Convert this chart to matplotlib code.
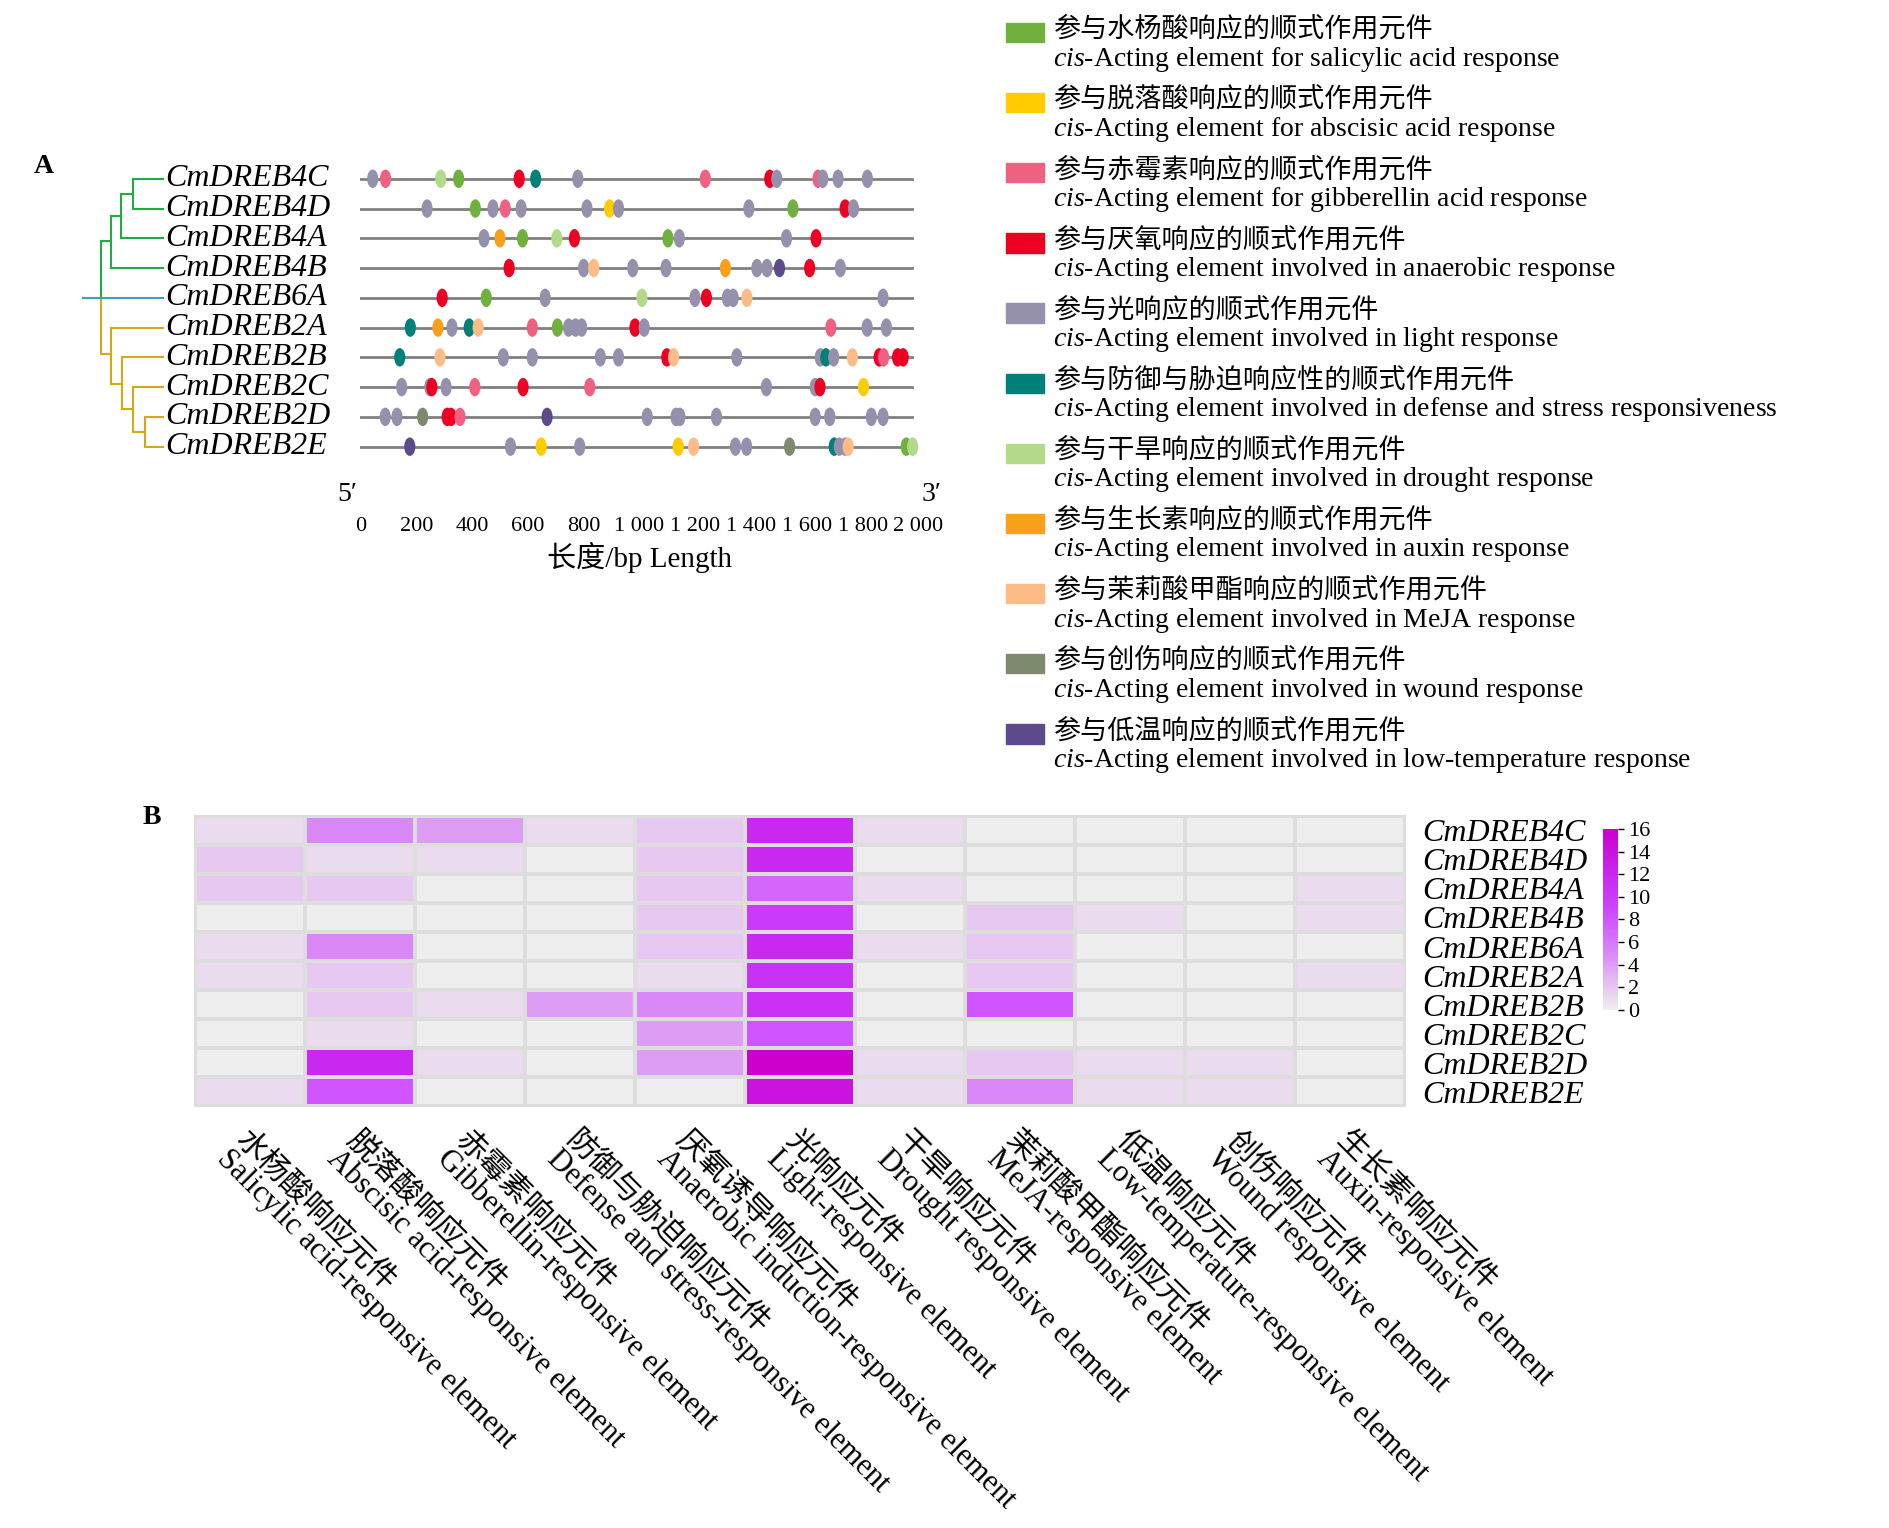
import matplotlib
matplotlib.use("Agg")
import matplotlib.pyplot as plt
from matplotlib.patches import Ellipse
from matplotlib.colors import LinearSegmentedColormap
import numpy as np

plt.rcParams['mathtext.fontset'] = 'custom'
plt.rcParams['mathtext.rm'] = 'Liberation Serif'
plt.rcParams['mathtext.it'] = 'Liberation Serif:italic'
FAM = ['Liberation Serif', 'Noto Sans CJK SC']

genes = ["CmDREB4C", "CmDREB4D", "CmDREB4A", "CmDREB4B", "CmDREB6A",
         "CmDREB2A", "CmDREB2B", "CmDREB2C", "CmDREB2D", "CmDREB2E"]

cat_colors = {
    "SA": "#70b03e", "ABA": "#ffcc00", "GA": "#f06080", "AN": "#ee0022",
    "LI": "#9590ab", "DE": "#008078", "DR": "#b3d98a", "AU": "#f9a01b",
    "ME": "#fdbb88", "WO": "#7e8a6c", "LT": "#5c4a8a",
}
legend_keys = ["SA", "ABA", "GA", "AN", "LI", "DE", "DR", "AU", "ME", "WO", "LT"]
legend_cn = ["参与水杨酸响应的顺式作用元件", "参与脱落酸响应的顺式作用元件", "参与赤霉素响应的顺式作用元件",
             "参与厌氧响应的顺式作用元件", "参与光响应的顺式作用元件", "参与防御与胁迫响应性的顺式作用元件",
             "参与干旱响应的顺式作用元件", "参与生长素响应的顺式作用元件", "参与茉莉酸甲酯响应的顺式作用元件",
             "参与创伤响应的顺式作用元件", "参与低温响应的顺式作用元件"]
legend_en = ["-Acting element for salicylic acid response", "-Acting element for abscisic acid response",
             "-Acting element for gibberellin acid response", "-Acting element involved in anaerobic response",
             "-Acting element involved in light response",
             "-Acting element involved in defense and stress responsiveness",
             "-Acting element involved in drought response", "-Acting element involved in auxin response",
             "-Acting element involved in MeJA response", "-Acting element involved in wound response",
             "-Acting element involved in low-temperature response"]

motifs = [
    [(44,"LI"),(90,"GA"),(288,"DR"),(352,"SA"),(569,"AN"),(628,"DE"),(779,"LI"),(1236,"GA"),(1467,"AN"),(1492,"LI"),(1640,"GA"),(1657,"LI"),(1712,"LI"),(1817,"LI")],
    [(239,"LI"),(412,"SA"),(475,"LI"),(519,"GA"),(576,"LI"),(812,"LI"),(893,"ABA"),(925,"LI"),(1392,"LI"),(1550,"SA"),(1737,"AN"),(1767,"LI")],
    [(443,"LI"),(500,"AU"),(581,"SA"),(704,"DR"),(767,"AN"),(1102,"SA"),(1143,"LI"),(1527,"LI"),(1633,"AN")],
    [(533,"AN"),(800,"LI"),(836,"ME"),(976,"LI"),(1095,"LI"),(1308,"AU"),(1421,"LI"),(1457,"LI"),(1502,"LT"),(1610,"AN"),(1720,"LI")],
    [(293,"AN"),(451,"SA"),(662,"LI"),(1009,"DR"),(1199,"LI"),(1240,"AN"),(1315,"LI"),(1336,"LI"),(1385,"ME"),(1873,"LI")],
    [(179,"DE"),(278,"AU"),(328,"LI"),(390,"DE"),(422,"ME"),(616,"GA"),(706,"SA"),(746,"LI"),(771,"LI"),(793,"LI"),(984,"AN"),(1017,"LI"),(1686,"GA"),(1816,"LI"),(1885,"LI")],
    [(141,"DE"),(285,"ME"),(512,"LI"),(616,"LI"),(860,"LI"),(925,"LI"),(1098,"AN"),(1122,"ME"),(1349,"LI"),(1648,"LI"),(1668,"DE"),(1696,"LI"),(1763,"ME"),(1859,"AN"),(1875,"GA"),(1925,"AN"),(1945,"AN")],
    [(148,"LI"),(249,"LI"),(256,"AN"),(307,"LI"),(410,"GA"),(583,"AN"),(822,"GA"),(1455,"LI"),(1630,"LI"),(1647,"AN"),(1803,"ABA")],
    [(89,"LI"),(131,"LI"),(223,"WO"),(311,"AN"),(325,"AN"),(357,"GA"),(669,"LT"),(1028,"LI"),(1131,"LI"),(1145,"LI"),(1276,"LI"),(1630,"LI"),(1682,"ME"),(1682,"LI"),(1831,"LI"),(1873,"LI")],
    [(177,"LT"),(538,"LI"),(648,"ABA"),(786,"LI"),(1139,"ABA"),(1194,"ME"),(1344,"LI"),(1384,"LI"),(1538,"WO"),(1698,"DE"),(1716,"LI"),(1737,"LI"),(1748,"ME"),(1956,"SA"),(1979,"DR")],
]

heat_cols_cn = ["水杨酸响应元件", "脱落酸响应元件", "赤霉素响应元件", "防御与胁迫响应元件", "厌氧诱导响应元件",
                "光响应元件", "干旱响应元件", "茉莉酸甲酯响应元件", "低温响应元件", "创伤响应元件", "生长素响应元件"]
heat_cols_en = ["Salicylic acid-responsive element", "Abscisic acid-responsive element",
                "Gibberellin-responsive element", "Defense and stress-responsive element",
                "Anaerobic induction-responsive element", "Light-responsive element",
                "Drought responsive element", "MeJA-responsive element",
                "Low-temperature-responsive element", "Wound responsive element", "Auxin-responsive element"]
heat_vals = np.array([
    [1, 5, 4, 1, 2, 12, 1, 0, 0, 0, 0],
    [2, 1, 1, 0, 2, 12, 0, 0, 0, 0, 0],
    [2, 2, 0, 0, 2, 7, 1, 0, 0, 0, 1],
    [0, 0, 0, 0, 2, 10, 0, 2, 1, 0, 1],
    [1, 5, 0, 0, 2, 12, 1, 2, 0, 0, 0],
    [1, 2, 0, 0, 1, 11, 0, 2, 0, 0, 1],
    [0, 2, 1, 4, 5, 11, 0, 8, 0, 0, 0],
    [0, 1, 0, 0, 4, 8, 0, 0, 0, 0, 0],
    [0, 12, 1, 0, 4, 16, 1, 2, 1, 1, 0],
    [1, 8, 0, 0, 0, 14, 1, 5, 1, 1, 0],
])

W, H = 1568.0, 1268.0
def ax_rect(x0, y0, x1, y1):
    return [x0 / W, 1 - y1 / H, (x1 - x0) / W, (y1 - y0) / H]

fig = plt.figure(figsize=(18.9, 15.28), dpi=100)

axt = fig.add_axes(ax_rect(299, 136, 762, 383))
axt.set_xlim(0, 2000)
axt.set_ylim(9.5, -0.5)
for i, row in enumerate(motifs):
    axt.plot([0, 1975], [i, i], color="#808080", lw=2, zorder=1)
    for pos, c in row:
        axt.add_patch(Ellipse((pos, i), 40, 0.62, color=cat_colors[c], zorder=2, lw=0))
for s in axt.spines.values():
    s.set_visible(False)
axt.set_yticks([])
axt.set_xticks(np.arange(0, 2001, 200))
axt.set_xticklabels(["0", "200", "400", "600", "800", "1 000", "1 200", "1 400", "1 600", "1 800", "2 000"],
                    family=FAM, fontsize=16)
axt.tick_params(axis='x', length=0, pad=40)
axt.text(-10, 10.6, "5′", ha='right', va='center', family=FAM, fontsize=20)
axt.text(2010, 10.6, "3′", ha='left', va='center', family=FAM, fontsize=20)
axt.set_xlabel("长度/bp Length", family=FAM, fontsize=21, labelpad=4)

axr = fig.add_axes(ax_rect(68, 136, 136, 383))
axr.set_xlim(68, 136)
axr.set_ylim(9.5, -0.5)
axr.axis('off')
g, y, b = "#22aa44", "#d4a817", "#3aa0c0"
def seg(x0, y0, x1, y1, c):
    axr.plot([x0, x1], [y0, y1], color=c, lw=1.5)
seg(110, 0, 136, 0, g); seg(110, 1, 136, 1, g); seg(110, 0, 110, 1, g)
seg(100, 0.5, 110, 0.5, g); seg(100, 2, 136, 2, g); seg(100, 0.5, 100, 2, g)
seg(92, 1.25, 100, 1.25, g); seg(92, 3, 136, 3, g); seg(92, 1.25, 92, 3, g)
seg(84, 2.1, 92, 2.1, g)
seg(120, 8, 136, 8, y); seg(120, 9, 136, 9, y); seg(120, 8, 120, 9, y)
seg(110, 8.5, 120, 8.5, y); seg(110, 7, 136, 7, y); seg(110, 7, 110, 8.5, y)
seg(101, 7.75, 110, 7.75, y); seg(101, 6, 136, 6, y); seg(101, 6, 101, 7.75, y)
seg(92, 6.9, 101, 6.9, y); seg(92, 5, 136, 5, y); seg(92, 5, 92, 6.9, y)
seg(84, 5.9, 92, 5.9, y)
seg(84, 2.1, 84, 4, g); seg(84, 4, 84, 5.9, y)
seg(68, 4, 136, 4, b)
for i, gname in enumerate(genes):
    axr.text(137, i, gname, ha='left', va='center', family=FAM, style='italic', fontsize=23,
             clip_on=False)

fig.text(28 / W, 1 - 138 / H, "A", family=FAM, fontsize=20, fontweight='bold', va='center')
fig.text(118 / W, 1 - 678 / H, "B", family=FAM, fontsize=20, fontweight='bold', va='center')

for k, key in enumerate(legend_keys):
    yc = 27 + 58.2 * k
    fig.patches.append(plt.Rectangle((835 / W, 1 - (yc + 8) / H), 31 / W, 16 / H,
                                     transform=fig.transFigure, color=cat_colors[key]))
    fig.text(874 / W, 1 - (yc - 2) / H, legend_cn[k], family=FAM, fontsize=19.5, va='center')
    fig.text(874 / W, 1 - (yc + 22) / H, r"$\mathit{cis}$" + legend_en[k], family=FAM, fontsize=20,
             va='center')

cmap = LinearSegmentedColormap.from_list("c", [(0, "#eeeeee"), (2 / 16, "#e6c8f0"), (5 / 16, "#da88f7"),
                                               (9 / 16, "#cc44ff"), (12 / 16, "#c828f0"), (1, "#cc00cc")])
axh = fig.add_axes(ax_rect(162, 677, 1166, 918))
mesh = axh.pcolormesh(heat_vals, cmap=cmap, vmin=0, vmax=16, edgecolors="#dddddd", linewidth=1.5)
axh.set_xlim(0, 11)
axh.set_ylim(10, 0)
for s in axh.spines.values():
    s.set_color("#dddddd"); s.set_linewidth(1.5)
axh.yaxis.tick_right()
axh.set_yticks(np.arange(10) + 0.5)
axh.set_yticklabels(genes, family=FAM, style='italic', fontsize=23)
axh.tick_params(axis='y', length=0, pad=12)
axh.set_xticks(np.arange(11) + 0.5)
axh.set_xticklabels([c + "\n" + e for c, e in zip(heat_cols_cn, heat_cols_en)], rotation=-45,
                    ha='left', va='top', rotation_mode='anchor', family=FAM, fontsize=22,
                    linespacing=0.9)
axh.tick_params(axis='x', length=0, pad=14)

axc = fig.add_axes(ax_rect(1330, 688, 1342, 838))
cb = fig.colorbar(mesh, cax=axc, ticks=np.arange(0, 17, 2))
cb.outline.set_visible(False)
axc.tick_params(length=4, width=1, labelsize=16)
for t in axc.get_yticklabels():
    t.set_family(FAM)

fig.savefig("out.png", dpi=100)
